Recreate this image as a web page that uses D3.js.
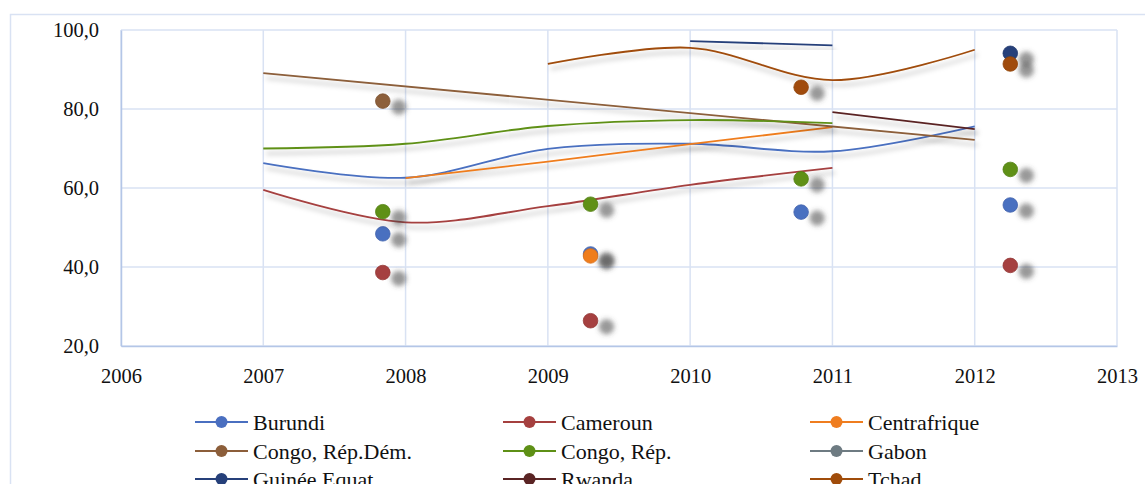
<!DOCTYPE html>
<html><head><meta charset="utf-8">
<script src="https://cdn.jsdelivr.net/npm/d3@7/dist/d3.min.js"></script>
<style>body{margin:0;background:#fff}svg{display:block}text{font-family:"Liberation Serif","Times New Roman",serif;fill:#111}</style>
</head><body><svg id="c" width="1145" height="484"></svg>
<script>
// ---- data ----
const xTicks = [2006, 2007, 2008, 2009, 2010, 2011, 2012, 2013];
const yTicks = [20, 40, 60, 80, 100];
const seriesNames = ["Burundi", "Cameroun", "Centrafrique", "Congo, Rép.Dém.", "Congo, Rép.", "Gabon", "Guinée Equat", "Rwanda", "Tchad"];
const seriesColors = ["#4a6fc0", "#a5403f", "#ef7d1f", "#8c5e3a", "#5e9016", "#6e7b82", "#26407a", "#5a2424", "#a04c0a"];
// line points (year, value)
const lineBurundi = [[2007, 66.3], [2008, 62.6], [2009, 69.9], [2010, 71.2], [2011, 69.3], [2012, 75.6]];
const lineCameroun = [[2007, 59.5], [2008, 51.3], [2009, 55.4], [2010, 60.8], [2011, 65.1]];
const lineCentrafrique = [[2008, 62.5], [2009, 66.7], [2010, 71.1], [2011, 75.4]];
const lineCongoRDC = [[2007, 89.1], [2012, 72.2]];
const lineCongoRep = [[2007, 70.0], [2008, 71.2], [2009, 75.7], [2010, 77.2], [2011, 76.4]];
const lineGabon = [];
const lineGuinee = [[2010, 97.2], [2011, 96.1]];
const lineRwanda = [[2011, 79.2], [2012, 74.9]];
const lineTchad = [[2009, 91.4], [2010, 95.5], [2011, 87.3], [2012, 95.0]];
// marker positions (x) and values per series
const dotX = [2007.84, 2009.30, 2010.78, 2012.25];
const dotsBurundi = [48.4, 43.3, 53.9, 55.7];
const dotsCameroun = [38.6, 26.4, null, 40.4];
const dotsCentrafrique = [null, 42.8, null, null];
const dotsCongoRDC = [82.0, null, null, null];
const dotsCongoRep = [54.0, 55.9, 62.3, 64.7];
const dotsGabon = [null, null, null, null];
const dotsGuinee = [null, null, null, 94.1];
const dotsRwanda = [null, null, null, null];
const dotsTchad = [null, null, 85.5, 91.4];

const lines = [lineBurundi, lineCameroun, lineCentrafrique, lineCongoRDC, lineCongoRep, lineGabon, lineGuinee, lineRwanda, lineTchad];
const dots = [dotsBurundi, dotsCameroun, dotsCentrafrique, dotsCongoRDC, dotsCongoRep, dotsGabon, dotsGuinee, dotsRwanda, dotsTchad];

// ---- drawing ----
const svg = d3.select("#c");
const defs = svg.append("defs");
const fl = defs.append("filter").attr("id", "ls").attr("x", "-10%").attr("y", "-50%").attr("width", "130%").attr("height", "250%");
fl.append("feDropShadow").attr("dx", 3).attr("dy", 5).attr("stdDeviation", 2.5).attr("flood-color", "#000").attr("flood-opacity", 0.28);
const fd = defs.append("filter").attr("id", "ds").attr("x", "-100%").attr("y", "-100%").attr("width", "400%").attr("height", "400%");
fd.append("feDropShadow").attr("dx", 16).attr("dy", 6).attr("stdDeviation", 2.6).attr("flood-color", "#444").attr("flood-opacity", 0.55);

// outer border
svg.append("rect").attr("x", 10.5).attr("y", 14.5).attr("width", 1150).attr("height", 490)
  .attr("fill", "none").attr("stroke", "#d9e2f3").attr("stroke-width", 1.5);

const L = 121, R = 1117, T = 30, B = 346;
const x = d3.scaleLinear().domain([2006, 2013]).range([L, R]);
const y = d3.scaleLinear().domain([20, 100]).range([B, T]);

const g = svg.append("g");
// grid
g.selectAll(".vg").data(xTicks).join("line").attr("x1", d => x(d)).attr("x2", d => x(d)).attr("y1", T).attr("y2", B)
  .attr("stroke", "#d9e2f3").attr("stroke-width", 1.5);
g.selectAll(".hg").data(yTicks).join("line").attr("x1", L).attr("x2", R).attr("y1", d => y(d)).attr("y2", d => y(d))
  .attr("stroke", "#d9e2f3").attr("stroke-width", 1.5);
// axes
const xAxis = d3.axisBottom(x).tickValues(xTicks).tickFormat(d3.format("d")).tickSize(0).tickPadding(22);
const ax = g.append("g").attr("transform", `translate(0,${B})`).call(xAxis);
ax.select(".domain").attr("stroke", "#b4c6e7").attr("stroke-width", 1.5);
ax.selectAll("text").attr("font-size", 20.5).attr("font-family", "Liberation Serif").attr("fill", "#111");
const yAxis = d3.axisLeft(y).tickValues(yTicks).tickFormat(d => d3.format(".1f")(d).replace(".", ",")).tickSize(0).tickPadding(22);
const ay = g.append("g").attr("transform", `translate(${L},0)`).call(yAxis);
ay.select(".domain").attr("stroke", "#b4c6e7").attr("stroke-width", 1.5);
ay.selectAll("text").attr("font-size", 20.5).attr("font-family", "Liberation Serif").attr("fill", "#111");

const lineGen = d3.line().x(d => x(d[0])).y(d => y(d[1])).curve(d3.curveCatmullRom.alpha(0.5));

seriesNames.forEach((name, i) => {
  const sg = g.append("g");
  if (lines[i].length > 1) {
    sg.append("path").datum(lines[i]).attr("d", lineGen).attr("fill", "none")
      .attr("stroke", seriesColors[i]).attr("stroke-width", 1.8).attr("filter", "url(#ls)");
  }
  const pts = dots[i].map((v, j) => [dotX[j], v]).filter(d => d[1] != null);
  sg.selectAll("circle").data(pts).join("circle").attr("cx", d => x(d[0])).attr("cy", d => y(d[1])).attr("r", 7.3)
    .attr("fill", seriesColors[i]).attr("stroke", d3.color(seriesColors[i]).darker(0.3)).attr("stroke-width", 0.8)
    .attr("filter", "url(#ds)");
});

// legend
const colX = [195, 503, 810];
const rowY = [422, 451, 479];
const lg = svg.append("g");
seriesNames.forEach((name, i) => {
  const cx = colX[i % 3], cy = rowY[Math.floor(i / 3)];
  lg.append("line").attr("x1", cx).attr("x2", cx + 53).attr("y1", cy).attr("y2", cy)
    .attr("stroke", seriesColors[i]).attr("stroke-width", 2);
  lg.append("circle").attr("cx", cx + 26.5).attr("cy", cy).attr("r", 6).attr("fill", seriesColors[i]);
  lg.append("text").attr("x", cx + 58).attr("y", cy).attr("dy", "0.35em").attr("font-size", 22).text(name);
});
</script></body></html>
